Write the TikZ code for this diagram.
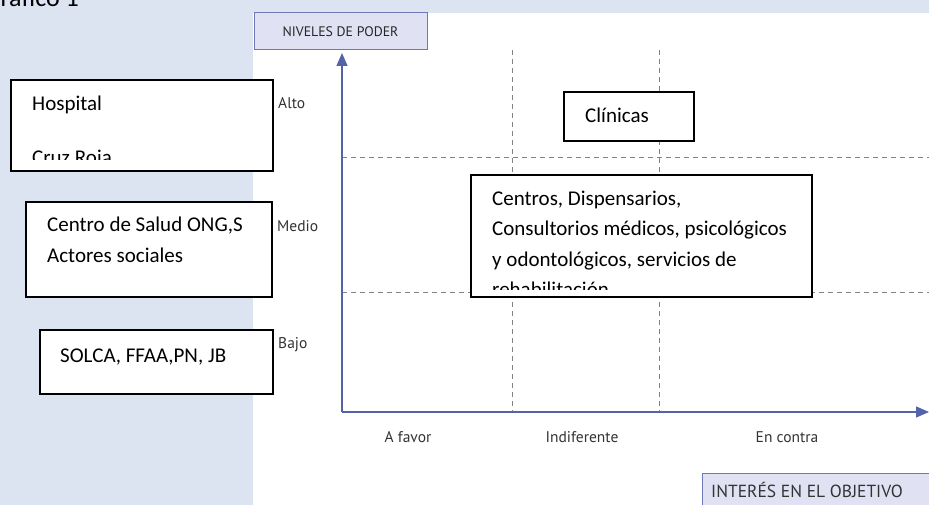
\documentclass[tikz,border=0pt]{standalone}
\usepackage{fontspec}
\setmainfont{Carlito}
\newfontfamily\labelfont{PT Sans}
\usetikzlibrary{arrows.meta}
\definecolor{pagebg}{RGB}{219,228,240}
\definecolor{axisblue}{RGB}{84,98,168}
\definecolor{headfill}{RGB}{224,226,244}
\definecolor{headline}{RGB}{110,120,182}
\definecolor{gridgray}{RGB}{130,130,130}
\tikzset{
  actorbox/.style={draw=black, line width=1.5pt, fill=white, anchor=north west,
    inner sep=0pt, outer sep=0pt},
  actortxt/.style={anchor=base west, inner sep=0pt, font=\fontsize{21}{30}\selectfont},
  levtxt/.style={inner sep=0pt, text=black!80, font=\labelfont\fontsize{15.5}{18}\selectfont},
  headbox/.style={draw=headline, line width=1pt, fill=headfill, inner sep=0pt,
    text=black!85},
  gridline/.style={gridgray, dash pattern=on 5pt off 4pt, line width=0.8pt},
  axisline/.style={axisblue, line width=1.4pt, -{Triangle[length=13pt,width=11pt]}}
}
\begin{document}
\begin{tikzpicture}[x=1pt, y=-1pt]
    \useasboundingbox (0,0) rectangle (929,505);
    \clip (0,0) rectangle (929,505);
    % page background
    \fill[pagebg] (0,0) rectangle (929,505);
    \fill[white] (253,13) rectangle (929,505);
    \node[actortxt, anchor=base east, font=\fontsize{26}{30}\selectfont] (title) at (79,7) {Gráfico 1};
    % axes and grid
    \coordinate (O) at (342,412);
    \coordinate (ytop) at (342,53);
    \coordinate (xend) at (929,412);
    \foreach \x [count=\i] in {512,659} {
      \coordinate (gt\i) at (\x,50);
      \coordinate (gb\i) at (\x,412);
      \draw[gridline] (gt\i) -- (gb\i);
    }
    \foreach \y [count=\i] in {157,292} {
      \coordinate (gl\i) at (342,\y);
      \coordinate (gr\i) at (929,\y);
      \draw[gridline] (gl\i) -- (gr\i);
    }
    \draw[axisline] (O) -- (ytop);
    \draw[axisline] (O) -- (xend);
    \node[headbox, minimum width=173pt, minimum height=37pt, font=\labelfont\fontsize{13.8}{16}\selectfont] (poder) at (340.5,31.5) {NIVELES DE PODER};
    \node[headbox, anchor=north west, minimum width=240pt, minimum height=40pt] (interes) at (702,473) {};
    \node[levtxt, anchor=west, font=\labelfont\fontsize{17.5}{20}\selectfont] (interestxt) at (711,490) {INTERÉS EN EL OBJETIVO};
    % level and interest labels
    \node[levtxt, anchor=west] (alto) at (278,103) {Alto};
    \node[levtxt, anchor=west] (medio) at (277,226) {Medio};
    \node[levtxt, anchor=west] (bajo) at (278,345) {Bajo};
    \node[levtxt] (favor) at (408,437) {A favor};
    \node[levtxt] (indif) at (582,437) {Indiferente};
    \node[levtxt] (contra) at (787,437) {En contra};
    % actor boxes
    \node[actorbox, minimum width=262pt, minimum height=91pt] (hosp) at (11,80) {};
    \node[actorbox, minimum width=246pt, minimum height=95pt] (salud) at (26,202) {};
    \node[actorbox, minimum width=233pt, minimum height=64pt] (solca) at (40,330) {};
    \node[actorbox, minimum width=130pt, minimum height=49pt] (clin) at (564,92) {};
    \node[actorbox, minimum width=341pt, minimum height=122pt] (centros) at (471,175) {};
    \node[actortxt] (hosp1) at (32,111) {Hospital};
    \begin{scope}
      \clip (12,81) rectangle (272,160);
      \node[actortxt] (hosp2) at (32,165) {Cruz Roja};
    \end{scope}
    \node[actortxt] (salud1) at (47,232) {Centro de Salud ONG,S};
    \node[actortxt] (salud2) at (47,262) {Actores sociales};
    \node[actortxt] (solca1) at (60,362) {SOLCA, FFAA,PN, JB};
    \node[actortxt] (clin1) at (585,123) {Clínicas};
    \node[actortxt] (centros1) at (492,206) {Centros, Dispensarios,};
    \node[actortxt] (centros2) at (492,236) {Consultorios médicos, psicológicos};
    \node[actortxt] (centros3) at (492,266) {y odontológicos, servicios de};
    \begin{scope}
      \clip (472,176) rectangle (811,289);
      \node[actortxt] (centros4) at (492,296) {rehabilitación};
    \end{scope}
\end{tikzpicture}
\end{document}
